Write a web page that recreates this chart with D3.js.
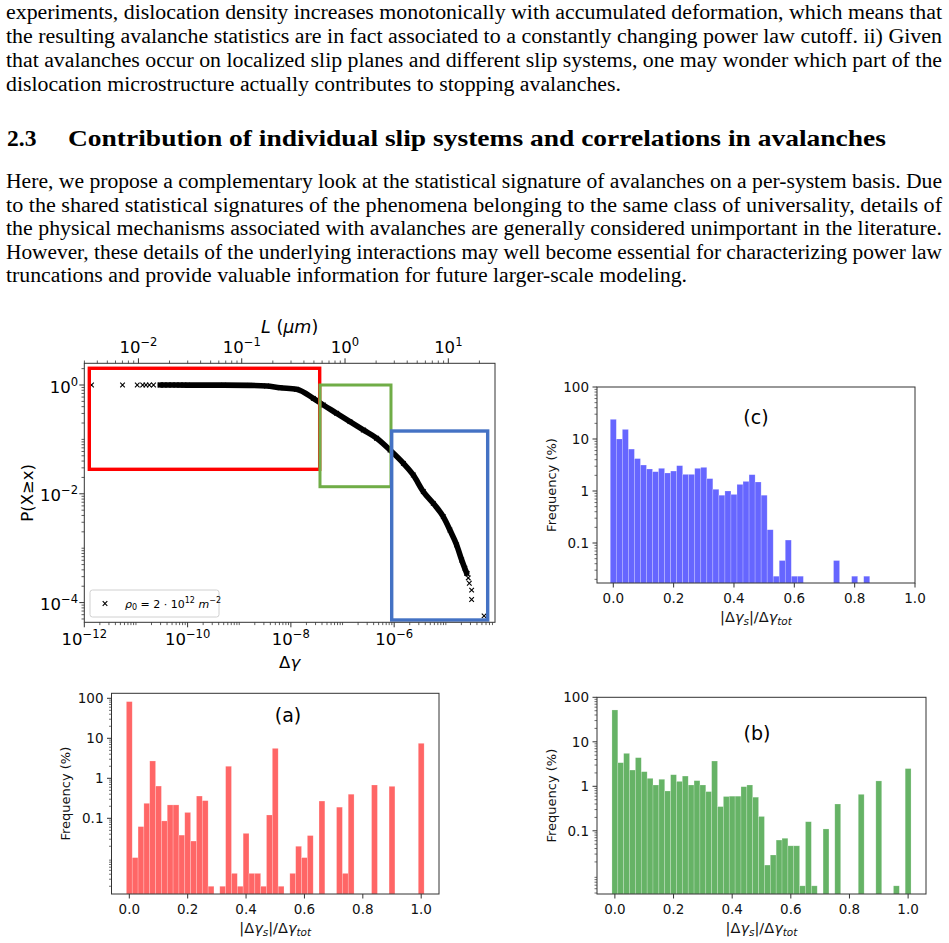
<!DOCTYPE html>
<html><head><meta charset="utf-8">
<script src="https://cdn.jsdelivr.net/npm/d3@7"></script>
<style>body{margin:0;background:#fff}svg{display:block}</style>
</head><body>
<svg id="fig" width="949" height="943"></svg>
<script>
// ---------------- DATA ----------------
const para1Lines = [
  "experiments, dislocation density increases monotonically with accumulated deformation, which means that",
  "the resulting avalanche statistics are in fact associated to a constantly changing power law cutoff. ii) Given",
  "that avalanches occur on localized slip planes and different slip systems, one may wonder which part of the",
  "dislocation microstructure actually contributes to stopping avalanches."
];
const headingNum = "2.3";
const headingText = "Contribution of individual slip systems and correlations in avalanches";
const para2Lines = [
  "Here, we propose a complementary look at the statistical signature of avalanches on a per-system basis. Due",
  "to the shared statistical signatures of the phenomena belonging to the same class of universality, details of",
  "the physical mechanisms associated with avalanches are generally considered unimportant in the literature.",
  "However, these details of the underlying interactions may well become essential for characterizing power law",
  "truncations and provide valuable information for future larger-scale modeling."
];

// main CCDF plot
const curveGamma = [2.95e-11, 1e-10, 5e-10, 1.58e-9, 3.39e-9, 6.17e-9, 1.29e-8, 2.72e-8, 4.24e-8, 7.71e-8, 1.39e-7, 2.52e-7, 4.58e-7, 8.3e-7, 1.51e-6, 2.34e-6, 3.66e-6, 5.71e-6, 8.91e-6, 1.2e-5, 1.62e-5, 2.03e-5, 2.53e-5];
const curveP     = [1.0, 0.997, 0.993, 0.985, 0.96, 0.89, 0.834, 0.569, 0.429, 0.302, 0.212, 0.149, 0.105, 0.0638, 0.0363, 0.0222, 0.011, 0.00668, 0.0038, 0.00216, 0.00115, 6.07e-4, 3.47e-4];
const sparseGamma = [1.38e-12, 5.5e-12, 1.06e-11, 1.35e-11, 1.56e-11, 1.82e-11, 2.19e-11, 2.92e-11, 3.49e-11, 4.17e-11, 5.01e-11, 5.96e-11, 7.13e-11, 8.51e-11, 2.34e-5, 2.6e-5, 2.72e-5, 2.85e-5, 3.16e-5, 3.16e-5, 5.5e-5];
const sparseP     = [1, 1, 1, 1, 1, 1, 1, 1, 1, 1, 1, 1, 1, 1, 4.3e-4, 3.4e-4, 2.84e-4, 2.27e-4, 1.7e-4, 1.14e-4, 5.7e-5];
const boxGamma0 = [1.25e-12, 3.66e-8, 8.95e-7];
const boxGamma1 = [3.61e-8, 8.67e-7, 6.46e-5];
const boxPtop   = [2.03, 1.0, 0.1426];
const boxPbot   = [0.0282, 0.0135, 4.79e-5];
const boxColors = ["#ff0000", "#70ad47", "#4472c4"];
const mainXTicks = [1e-12, 1e-10, 1e-8, 1e-6];
const mainXExp = ["\u221212", "\u221210", "\u22128", "\u22126"];
const mainYTicks = [1, 1e-2, 1e-4];
const mainYExp = ["0", "\u22122", "\u22124"];
const topLTicks = [1e-2, 1e-1, 1, 10];
const topLExp = ["\u22122", "\u22121", "0", "1"];

// histograms
const binWidth = 0.02;
const centersA = [0.00,0.02,0.04,0.06,0.08,0.10,0.12,0.14,0.16,0.18,0.20,0.22,0.24,0.26,0.28,0.32,0.34,0.36,0.38,0.40,0.42,0.44,0.46,0.48,0.50,0.52,0.56,0.58,0.60,0.62,0.66,0.72,0.74,0.76,0.84,0.90,1.00];
const freqA    = [82.6,0.0104,0.062,0.237,2.71,0.64,0.086,0.216,0.216,0.038,0.14,0.027,0.36,0.276,0.002,0.002,2.0,0.0042,0.002,0.042,0.0042,0.0042,0.002,0.121,5.6,0.002,0.0042,0.02,0.0104,0.037,0.27,0.19,0.0042,0.4,0.68,0.63,7.5];
const centersB = [0.00,0.02,0.04,0.06,0.08,0.10,0.12,0.14,0.16,0.18,0.20,0.22,0.24,0.26,0.28,0.30,0.32,0.34,0.36,0.38,0.40,0.42,0.44,0.46,0.48,0.50,0.52,0.54,0.56,0.58,0.60,0.62,0.64,0.66,0.68,0.72,0.76,0.84,0.90,0.96,1.00];
const freqB    = [51.9,3.39,5.5,2.32,4.4,2.13,1.51,1.07,1.44,0.785,1.82,1.29,1.7,1.07,1.34,1.07,0.76,3.7,0.35,0.59,0.6,0.6,0.98,1.07,0.57,0.21,0.017,0.0286,0.062,0.068,0.046,0.046,0.0058,0.16,0.0058,0.11,0.4,0.66,1.32,0.0058,2.5];
const centersC = [0.00,0.02,0.04,0.06,0.08,0.10,0.12,0.14,0.16,0.18,0.20,0.22,0.24,0.26,0.28,0.30,0.32,0.34,0.36,0.38,0.40,0.42,0.44,0.46,0.48,0.50,0.52,0.54,0.56,0.58,0.60,0.62,0.74,0.80,0.84];
const freqC    = [23.9,10,15.3,6.4,4.2,3.16,2.65,2.35,2.73,2.22,2.42,3.07,2.09,2.09,2.73,2.85,1.73,1.08,0.83,1.0,0.86,1.34,1.53,2.06,1.49,0.83,0.18,0.023,0.046,0.114,0.023,0.023,0.046,0.023,0.023];
const histXTicks = [0, 0.2, 0.4, 0.6, 0.8, 1.0];
const histXLabels = ["0.0", "0.2", "0.4", "0.6", "0.8", "1.0"];
const histYTicks = [0.1, 1, 10, 100];
const histYLabels = ["0.1", "1", "10", "100"];

// ---------------- DRAWING ----------------
const svg = d3.select("#fig");
svg.append("rect").attr("width", 949).attr("height", 943).attr("fill", "#fff");
const SERIF = "'Liberation Serif','Times New Roman',serif";
const SANS = "'DejaVu Sans', sans-serif";

// page text
const tg = svg.append("g").attr("font-family", SERIF).attr("fill", "#000");
const p1Y = [18.5, 42.5, 66.5, 90.5];
const p1W = [936, 936, 936, 615];
para1Lines.forEach((t, i) => tg.append("text").attr("x", 6).attr("y", p1Y[i]).attr("font-size", 20)
  .attr("textLength", p1W[i]).attr("lengthAdjust", "spacingAndGlyphs").text(t));
tg.append("text").attr("x", 7).attr("y", 146).attr("font-size", 23.5).attr("font-weight", "bold").text(headingNum);
tg.append("text").attr("x", 68).attr("y", 146).attr("font-size", 23.5).attr("font-weight", "bold")
  .attr("textLength", 818).attr("lengthAdjust", "spacingAndGlyphs").text(headingText);
const p2Y = [188, 211.5, 235, 258.5, 282];
const p2W = [936, 936, 936, 936, 681];
para2Lines.forEach((t, i) => tg.append("text").attr("x", 6).attr("y", p2Y[i]).attr("font-size", 20)
  .attr("textLength", p2W[i]).attr("lengthAdjust", "spacingAndGlyphs").text(t));

function minorLogTicks(lo, hi, includeDecades, exclude) {
  const out = [];
  for (let e = Math.floor(Math.log10(lo)) - 1; e <= Math.ceil(Math.log10(hi)); e++) {
    for (let k = includeDecades ? 1 : 2; k <= 9; k++) {
      const v = k * Math.pow(10, e);
      if (v >= lo * 0.999 && v <= hi * 1.001 && !exclude.some(m => Math.abs(Math.log10(m) - Math.log10(v)) < 1e-6)) out.push(v);
    }
  }
  return out;
}
function powLabel(t, exp, fs) {
  t.append("tspan").text("10");
  t.append("tspan").attr("dy", -0.42 * fs).attr("font-size", fs * 0.7).text(exp);
}
const AX = "#333";

// ---- main chart ----
const M = {x0: 84.3, x1: 495, y0: 363.3, y1: 622.3};
const mx = d3.scaleLog().domain([1e-12, Math.pow(10, -4.048)]).range([M.x0, M.x1]);
const my = d3.scaleLog().domain([Math.pow(10, -4.362), Math.pow(10, 0.399)]).range([M.y1, M.y0]);
const ml = d3.scaleLog().domain([Math.pow(10, -2.524), Math.pow(10, 1.452)]).range([M.x0, M.x1]);
const mg = svg.append("g");

// curve (dense band) and sparse markers
const line = d3.line().x((d) => mx(d[0])).y((d) => my(d[1])).curve(d3.curveMonotoneX);
mg.append("path").attr("d", line(d3.zip(curveGamma, curveP))).attr("fill", "none")
  .attr("stroke", "#000").attr("stroke-width", 5.6).attr("stroke-linecap", "round").attr("stroke-linejoin", "round");
function xm(g, x, y, s) {
  g.append("path").attr("d", `M${x - s},${y - s}L${x + s},${y + s}M${x - s},${y + s}L${x + s},${y - s}`)
    .attr("stroke", "#000").attr("stroke-width", 1.1).attr("fill", "none");
}
d3.zip(curveGamma, curveP).forEach(d => xm(mg, mx(d[0]), my(d[1]), 2.3));
d3.zip(sparseGamma, sparseP).forEach(d => xm(mg, mx(d[0]), my(d[1]), 2.3));

// boxes
boxColors.forEach((c, i) => {
  mg.append("rect").attr("x", mx(boxGamma0[i])).attr("y", my(boxPtop[i]))
    .attr("width", mx(boxGamma1[i]) - mx(boxGamma0[i])).attr("height", my(boxPbot[i]) - my(boxPtop[i]))
    .attr("fill", "none").attr("stroke", c).attr("stroke-width", i === 1 ? 3 : 3.4);
});

// legend
mg.append("rect").attr("x", 90).attr("y", 590).attr("width", 129).attr("height", 27).attr("rx", 2.5)
  .attr("fill", "#fff").attr("fill-opacity", 0.8).attr("stroke", "#d0d0d0").attr("stroke-width", 1);
xm(mg, 105, 603.5, 2.3);
const lt = mg.append("text").attr("x", 125).attr("y", 607.5).attr("font-family", SANS).attr("font-size", 11);
lt.append("tspan").attr("font-style", "italic").text("\u03c1");
lt.append("tspan").attr("dy", 2.5).attr("font-size", 8).text("0");
lt.append("tspan").attr("dy", -2.5).text(" = 2 \u00b7 10");
lt.append("tspan").attr("dy", -4.5).attr("font-size", 8).text("12");
lt.append("tspan").attr("dy", 4.5).attr("font-style", "italic").text(" m");
lt.append("tspan").attr("dy", -4.5).attr("font-size", 8).text("\u22122");

// spines
mg.append("rect").attr("x", M.x0).attr("y", M.y0).attr("width", M.x1 - M.x0).attr("height", M.y1 - M.y0)
  .attr("fill", "none").attr("stroke", AX).attr("stroke-width", 1);
// bottom ticks
const FSm = 16.5;
mainXTicks.forEach((v, i) => {
  mg.append("line").attr("x1", mx(v)).attr("x2", mx(v)).attr("y1", M.y1).attr("y2", M.y1 + 5).attr("stroke", AX);
  const t = mg.append("text").attr("x", mx(v)).attr("y", 645).attr("text-anchor", "middle").attr("font-family", SANS).attr("font-size", FSm);
  powLabel(t, mainXExp[i], FSm);
});
minorLogTicks(mx.domain()[0], mx.domain()[1], true, mainXTicks).forEach(v => {
  mg.append("line").attr("x1", mx(v)).attr("x2", mx(v)).attr("y1", M.y1).attr("y2", M.y1 + 2.8).attr("stroke", AX).attr("stroke-width", 0.8);
});
// left ticks
mainYTicks.forEach((v, i) => {
  mg.append("line").attr("x1", M.x0 - 5).attr("x2", M.x0).attr("y1", my(v)).attr("y2", my(v)).attr("stroke", AX);
  const t = mg.append("text").attr("x", 78).attr("y", my(v) + 7.5).attr("text-anchor", "end").attr("font-family", SANS).attr("font-size", FSm);
  powLabel(t, mainYExp[i], FSm);
});
minorLogTicks(my.domain()[0], my.domain()[1], true, mainYTicks).forEach(v => {
  mg.append("line").attr("x1", M.x0 - 2.8).attr("x2", M.x0).attr("y1", my(v)).attr("y2", my(v)).attr("stroke", AX).attr("stroke-width", 0.8);
});
// top ticks (L)
topLTicks.forEach((v, i) => {
  mg.append("line").attr("x1", ml(v)).attr("x2", ml(v)).attr("y1", M.y0 - 5).attr("y2", M.y0).attr("stroke", AX);
  const t = mg.append("text").attr("x", ml(v)).attr("y", 353).attr("text-anchor", "middle").attr("font-family", SANS).attr("font-size", FSm);
  powLabel(t, topLExp[i], FSm);
});
minorLogTicks(ml.domain()[0], ml.domain()[1], false, topLTicks).forEach(v => {
  mg.append("line").attr("x1", ml(v)).attr("x2", ml(v)).attr("y1", M.y0 - 2.8).attr("y2", M.y0).attr("stroke", AX).attr("stroke-width", 0.8);
});
// axis labels
mg.append("text").attr("x", (M.x0 + M.x1) / 2).attr("y", 667.5).attr("text-anchor", "middle").attr("font-family", SANS).attr("font-size", FSm)
  .html('\u0394<tspan font-style="italic">\u03b3</tspan>');
const ltop = mg.append("text").attr("x", (M.x0 + M.x1) / 2).attr("y", 332.5).attr("text-anchor", "middle").attr("font-family", SANS).attr("font-size", 17.5);
ltop.append("tspan").attr("font-style", "italic").text("L");
ltop.append("tspan").text(" (");
ltop.append("tspan").attr("font-style", "italic").text("\u03bcm");
ltop.append("tspan").text(")");
mg.append("text").attr("transform", `translate(33,${(M.y0 + M.y1) / 2}) rotate(-90)`).attr("text-anchor", "middle")
  .attr("font-family", SANS).attr("font-size", FSm).text("P(X\u2265x)");

// ---- histograms ----
function histogram(cfg, centers, values, color, label) {
  const x = d3.scaleLinear().domain(cfg.xd).range([cfg.x0, cfg.x1]);
  const y = d3.scaleLog().domain(cfg.yd).range([cfg.y1, cfg.y0]);
  const g = svg.append("g");
  const FS = 13.5;
  g.selectAll("rect.bar").data(d3.zip(centers, values)).join("rect").attr("class", "bar")
    .attr("x", d => x(d[0] - binWidth / 2)).attr("width", d => x(d[0] + binWidth / 2) - x(d[0] - binWidth / 2))
    .attr("y", d => y(d[1])).attr("height", d => cfg.y1 - y(d[1]))
    .attr("fill", color).attr("stroke", "#fff").attr("stroke-opacity", 0.35).attr("stroke-width", 0.6);
  g.append("rect").attr("x", cfg.x0).attr("y", cfg.y0).attr("width", cfg.x1 - cfg.x0).attr("height", cfg.y1 - cfg.y0)
    .attr("fill", "none").attr("stroke", AX).attr("stroke-width", 1);
  histXTicks.forEach((v, i) => {
    g.append("line").attr("x1", x(v)).attr("x2", x(v)).attr("y1", cfg.y1).attr("y2", cfg.y1 + 4.5).attr("stroke", AX);
    g.append("text").attr("x", x(v)).attr("y", cfg.y1 + 20).attr("text-anchor", "middle").attr("font-family", SANS)
      .attr("font-size", FS).attr("fill", "#111").text(histXLabels[i]);
  });
  histYTicks.forEach((v, i) => {
    g.append("line").attr("x1", cfg.x0 - 4.5).attr("x2", cfg.x0).attr("y1", y(v)).attr("y2", y(v)).attr("stroke", AX);
    g.append("text").attr("x", cfg.x0 - 8).attr("y", y(v) + 5).attr("text-anchor", "end").attr("font-family", SANS)
      .attr("font-size", FS).attr("fill", "#111").text(histYLabels[i]);
  });
  minorLogTicks(cfg.yd[0], cfg.yd[1], false, []).forEach(v => {
    g.append("line").attr("x1", cfg.x0 - 2.5).attr("x2", cfg.x0).attr("y1", y(v)).attr("y2", y(v)).attr("stroke", AX).attr("stroke-width", 0.7);
  });
  const xl = g.append("text").attr("x", (cfg.x0 + cfg.x1) / 2).attr("y", cfg.y1 + 38.5).attr("text-anchor", "middle")
    .attr("font-family", SANS).attr("font-size", 14.5).attr("fill", "#111");
  xl.append("tspan").text("|\u0394");
  xl.append("tspan").attr("font-style", "italic").text("\u03b3");
  xl.append("tspan").attr("font-style", "italic").attr("font-size", 10.5).attr("dy", 3).text("s");
  xl.append("tspan").attr("dy", -3).text("|/\u0394");
  xl.append("tspan").attr("font-style", "italic").text("\u03b3");
  xl.append("tspan").attr("font-style", "italic").attr("font-size", 10.5).attr("dy", 3).text("tot");
  g.append("text").attr("transform", `translate(${cfg.x0 - 41.5},${(cfg.y0 + cfg.y1) / 2}) rotate(-90)`).attr("text-anchor", "middle")
    .attr("font-family", SANS).attr("font-size", 13).attr("fill", "#111").text("Frequency (%)");
  g.append("text").attr("x", cfg.lx).attr("y", cfg.ly).attr("text-anchor", "middle").attr("font-family", SANS)
    .attr("font-size", 19).attr("fill", "#000").text(label);
}

histogram({x0: 111.5, x1: 439, xd: [-0.061, 1.061], y0: 693.3, y1: 894, yd: [Math.pow(10, -2.8925), Math.pow(10, 2.125)], lx: 288, ly: 722},
  centersA, freqA, "#ff6666", "(a)");
histogram({x0: 597, x1: 926, xd: [-0.061, 1.061], y0: 697.3, y1: 894, yd: [Math.pow(10, -2.42), 100], lx: 757, ly: 740},
  centersB, freqB, "#66b366", "(b)");
histogram({x0: 597, x1: 915, xd: [-0.054, 1.0], y0: 387, y1: 583, yd: [Math.pow(10, -1.769), 100], lx: 756, ly: 424},
  centersC, freqC, "#6666ff", "(c)");
</script>
</body></html>
